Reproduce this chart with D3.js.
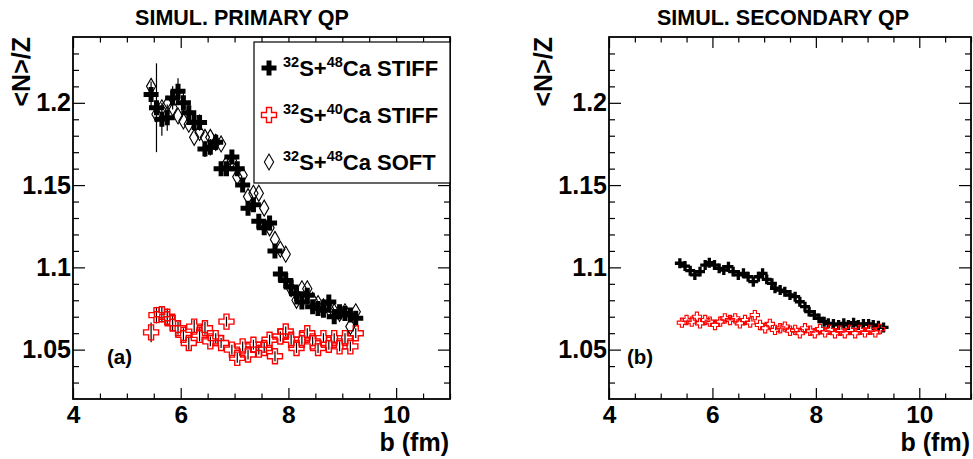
<!DOCTYPE html>
<html><head><meta charset="utf-8">
<script src="https://cdn.jsdelivr.net/npm/d3@7"></script>
<style>
body{margin:0;background:#fff}
svg{display:block}
text{font-family:"Liberation Sans",Arial,Helvetica,sans-serif;font-weight:bold;fill:#000}
</style></head><body>
<svg id="c" width="973" height="459"></svg>
<script>
// ---------- data ----------
const panelTitles = ["SIMUL. PRIMARY QP", "SIMUL. SECONDARY QP"];
const panelTags = ["(a)", "(b)"];
const xMajorTicks = [4, 6, 8, 10];
const yMajorTicks = [1.05, 1.1, 1.15, 1.2];
const xLabel = "b (fm)";
const yLabel = "<N>/Z";
const legendLabels = [
  {a1: "32", s1: "S+", a2: "48", s2: "Ca STIFF"},
  {a1: "32", s1: "S+", a2: "40", s2: "Ca STIFF"},
  {a1: "32", s1: "S+", a2: "48", s2: "Ca SOFT"}
];

// Panel (a): primary QP
const aStiff48B = [5.45,5.55,5.65,5.75,5.85,5.95,6.05,6.15,6.25,6.35,6.45,6.55,6.65,6.75,6.85,6.95,7.05,7.15,7.25,7.35,7.45,7.55,7.65,7.75,7.85,7.95,8.05,8.15,8.25,8.35,8.45,8.55,8.65,8.75,8.85,8.95,9.05,9.15,9.25];
const aStiff48V = [1.205,1.197,1.190,1.191,1.203,1.207,1.200,1.194,1.188,1.188,1.172,1.173,1.176,1.160,1.160,1.167,1.160,1.150,1.136,1.138,1.128,1.124,1.127,1.110,1.096,1.092,1.088,1.084,1.079,1.083,1.076,1.075,1.074,1.079,1.070,1.073,1.072,1.071,1.069];
const aStiff48E = [0.008,0.027,0.010,0.008,0.007,0.008,0.006,0.006,0.005,0.005,0.005,0.005,0.005,0.004,0.004,0.004,0.004,0.004,0.004,0.004,0.004,0.004,0.004,0.003,0.003,0.003,0.003,0.003,0.003,0.003,0.003,0.003,0.003,0.003,0.003,0.003,0.003,0.003,0.003];

const aStiff40B = [5.45,5.55,5.65,5.75,5.85,5.95,6.05,6.15,6.25,6.35,6.45,6.55,6.65,6.75,6.85,6.95,7.05,7.15,7.25,7.35,7.45,7.55,7.65,7.75,7.85,7.95,8.05,8.15,8.25,8.35,8.45,8.55,8.65,8.75,8.85,8.95,9.05,9.15,9.25];
const aStiff40V = [1.0605,1.071,1.0715,1.070,1.066,1.063,1.059,1.054,1.064,1.059,1.063,1.055,1.057,1.054,1.067,1.050,1.045,1.052,1.047,1.053,1.050,1.051,1.056,1.046,1.058,1.061,1.056,1.051,1.056,1.060,1.055,1.051,1.057,1.053,1.057,1.052,1.057,1.052,1.060];
const aStiff40E = [0.006,0.005,0.005,0.005,0.005,0.004,0.004,0.004,0.004,0.004,0.004,0.003,0.003,0.003,0.003,0.003,0.003,0.003,0.003,0.003,0.003,0.003,0.003,0.003,0.003,0.003,0.003,0.003,0.003,0.003,0.003,0.003,0.003,0.003,0.003,0.003,0.003,0.003,0.003];

const aSoft48B = [5.45,5.55,5.65,5.75,5.85,5.95,6.05,6.15,6.25,6.35,6.45,6.55,6.65,6.75,6.85,6.95,7.05,7.15,7.25,7.35,7.45,7.55,7.65,7.75,7.85,7.95,8.05,8.15,8.25,8.35,8.45,8.55,8.65,8.75,8.85,8.95,9.05,9.15,9.25];
const aSoft48V = [1.210,1.193,1.197,1.199,1.197,1.192,1.189,1.187,1.179,1.182,1.179,1.179,1.176,1.175,1.163,1.165,1.155,1.156,1.143,1.145,1.145,1.136,1.124,1.117,1.111,1.108,1.087,1.080,1.087,1.087,1.080,1.078,1.076,1.075,1.073,1.072,1.073,1.064,1.073];

// Panel (b): secondary QP
const bStiff48B = [5.37,5.47,5.57,5.66,5.76,5.86,5.94,6.04,6.13,6.22,6.31,6.40,6.50,6.60,6.69,6.79,6.89,6.97,7.05,7.15,7.21,7.31,7.40,7.50,7.60,7.69,7.79,7.87,7.97,8.06,8.16,8.24,8.34,8.44,8.54,8.63,8.73,8.82,8.92,9.02,9.11,9.21,9.31];
const bStiff48V = [1.1025,1.1008,1.098,1.0954,1.0974,1.1014,1.1028,1.1014,1.0994,1.0984,1.1004,1.0974,1.0954,1.0964,1.0943,1.0913,1.0943,1.0964,1.0927,1.0903,1.0873,1.0862,1.0852,1.0832,1.0822,1.0791,1.0761,1.0731,1.0710,1.069,1.067,1.066,1.0656,1.065,1.066,1.065,1.0664,1.065,1.0656,1.0656,1.065,1.0645,1.0635];

const bStiff40B = [5.41,5.50,5.60,5.70,5.76,5.86,5.95,6.05,6.15,6.24,6.34,6.44,6.53,6.63,6.73,6.82,6.92,7.02,7.11,7.21,7.31,7.40,7.50,7.60,7.69,7.79,7.89,7.98,8.08,8.18,8.27,8.37,8.47,8.56,8.66,8.76,8.85,8.95,9.05,9.15,9.24];
const bStiff40V = [1.0664,1.068,1.067,1.070,1.066,1.068,1.067,1.065,1.067,1.069,1.068,1.069,1.066,1.068,1.0665,1.071,1.065,1.063,1.0656,1.062,1.063,1.064,1.0615,1.062,1.060,1.063,1.0615,1.060,1.0625,1.0605,1.062,1.060,1.0615,1.060,1.062,1.060,1.062,1.0605,1.062,1.0605,1.0625];

// ---------- drawing ----------
const svg = d3.select("#c");
const panels = [
  {x0: 73, x1: 450, y0: 37, y1: 399, title: 242, ylab: 30, tagx: 107, big: true,
   series: [
     {b: aStiff48B, v: aStiff48V, e: aStiff48E, kind: "fullcross"},
     {b: aStiff40B, v: aStiff40V, e: aStiff40E, kind: "opencross"},
     {b: aSoft48B, v: aSoft48V, kind: "diamond"}
   ]},
  {x0: 609, x1: 971, y0: 37, y1: 399, title: 783, ylab: 552, tagx: 627, big: false,
   series: [
     {b: bStiff48B, v: bStiff48V, kind: "fullcross"},
     {b: bStiff40B, v: bStiff40V, kind: "opencross"}
   ]}
];

const crossBig = d3.symbol().type(d3.symbolCross).size(125)();
const crossSmall = d3.symbol().type(d3.symbolCross).size(55)();
const crossSmallOpen = d3.symbol().type(d3.symbolCross).size(48)();
const diamondPath = d3.symbol().type(d3.symbolDiamond).size(74)();

function styleMarker(sel, kind, big) {
  if (kind === "fullcross") {
    sel.attr("d", big ? crossBig : crossSmall).attr("fill", "#000").attr("stroke", "none");
  } else if (kind === "opencross") {
    sel.attr("d", big ? crossBig : crossSmallOpen).attr("fill", "none").attr("stroke", "#ff0000").attr("stroke-width", big ? 1.4 : 1.1);
  } else {
    sel.attr("d", diamondPath).attr("fill", "none").attr("stroke", "#000").attr("stroke-width", 1.1);
  }
}

panels.forEach((p, i) => {
  const x = d3.scaleLinear().domain([4, 11]).range([p.x0, p.x1]);
  const y = d3.scaleLinear().domain([1.02, 1.24]).range([p.y1, p.y0]);
  const g = svg.append("g");

  g.append("rect").attr("x", p.x0).attr("y", p.y0).attr("width", p.x1 - p.x0).attr("height", p.y1 - p.y0)
    .attr("fill", "#fff").attr("stroke", "none");

  const xMinor = d3.range(4, 11.01, 0.5).filter(v => !xMajorTicks.includes(v));
  const yMinor = d3.range(1.03, 1.2351, 0.01).map(v => +v.toFixed(2)).filter(v => !yMajorTicks.includes(v));

  const clean = s => { s.select(".domain").remove(); s.selectAll("line").attr("stroke", "#000").attr("stroke-width", 1.2); };
  const fontify = (s, fs) => s.attr("font-family", null).attr("font-size", null)
    .selectAll("text").attr("font-size", fs).attr("fill", "#000");

  // bottom
  g.append("g").attr("transform", `translate(0,${p.y1})`)
    .call(d3.axisBottom(x).tickValues(xMinor).tickSize(-5.5).tickFormat("")).call(clean);
  g.append("g").attr("transform", `translate(0,${p.y1})`)
    .call(d3.axisBottom(x).tickValues(xMajorTicks).tickSize(-11).tickPadding(7).tickFormat(d3.format("d")))
    .call(clean).call(fontify, 24.5);
  // top
  g.append("g").attr("transform", `translate(0,${p.y0})`)
    .call(d3.axisTop(x).tickValues(xMinor).tickSize(-5.5).tickFormat("")).call(clean);
  g.append("g").attr("transform", `translate(0,${p.y0})`)
    .call(d3.axisTop(x).tickValues(xMajorTicks).tickSize(-11).tickFormat("")).call(clean);
  // left
  g.append("g").attr("transform", `translate(${p.x0},0)`)
    .call(d3.axisLeft(y).tickValues(yMinor).tickSize(-6).tickFormat("")).call(clean);
  g.append("g").attr("transform", `translate(${p.x0},0)`)
    .call(d3.axisLeft(y).tickValues(yMajorTicks).tickSize(-12).tickPadding(2).tickFormat(d => String(+d.toFixed(2))))
    .call(clean).call(fontify, 25);
  // right
  g.append("g").attr("transform", `translate(${p.x1},0)`)
    .call(d3.axisRight(y).tickValues(yMinor).tickSize(-6).tickFormat("")).call(clean);
  g.append("g").attr("transform", `translate(${p.x1},0)`)
    .call(d3.axisRight(y).tickValues(yMajorTicks).tickSize(-12).tickFormat("")).call(clean);

  // data
  p.series.forEach(s => {
    const pts = s.b.map((b, k) => ({b, v: s.v[k], e: s.e ? s.e[k] : 0}));
    if (s.e) {
      g.append("g").selectAll("line").data(pts).join("line")
        .attr("x1", d => x(d.b)).attr("x2", d => x(d.b))
        .attr("y1", d => y(d.v - d.e)).attr("y2", d => y(d.v + d.e))
        .attr("stroke", "#000").attr("stroke-width", 1.2);
    }
    g.append("g").selectAll("path").data(pts).join("path")
      .attr("transform", d => `translate(${x(d.b)},${y(d.v)})`)
      .call(sel => styleMarker(sel, s.kind, p.big));
  });

  // frame
  g.append("rect").attr("x", p.x0).attr("y", p.y0).attr("width", p.x1 - p.x0).attr("height", p.y1 - p.y0)
    .attr("fill", "none").attr("stroke", "#000").attr("stroke-width", 1.8);

  // title
  svg.append("text").attr("x", p.title).attr("y", 25).attr("text-anchor", "middle")
    .attr("font-size", 21.5).text(panelTitles[i]);
  // x label
  svg.append("text").attr("x", p.x1 - 1).attr("y", 451).attr("text-anchor", "end")
    .attr("font-size", 25).text(xLabel);
  // y label
  svg.append("text").attr("transform", `translate(${p.ylab},${p.y0}) rotate(-90)`)
    .attr("text-anchor", "end").attr("font-size", 25).text(yLabel);
  // tag
  svg.append("text").attr("x", p.tagx).attr("y", 364)
    .attr("font-size", 20.5).text(panelTags[i]);
});

// legend
const lg = svg.append("g");
lg.append("rect").attr("x", 254).attr("y", 42).attr("width", 196).attr("height", 141)
  .attr("fill", "#fff").attr("stroke", "#000").attr("stroke-width", 1.2);
const legendKinds = ["fullcross", "opencross", "diamond"];
const rowY = [68, 115, 162];
legendLabels.forEach((l, k) => {
  lg.append("path").attr("transform", `translate(269,${rowY[k]})`).call(sel => styleMarker(sel, legendKinds[k], true));
  const t = lg.append("text").attr("x", 283).attr("y", rowY[k] + 8).attr("font-size", 22);
  t.append("tspan").attr("font-size", 14.5).attr("dy", -9).text(l.a1);
  t.append("tspan").attr("dy", 9).text(l.s1);
  t.append("tspan").attr("font-size", 14.5).attr("dy", -9).text(l.a2);
  t.append("tspan").attr("dy", 9).text(l.s2);
});
</script>
</body></html>
